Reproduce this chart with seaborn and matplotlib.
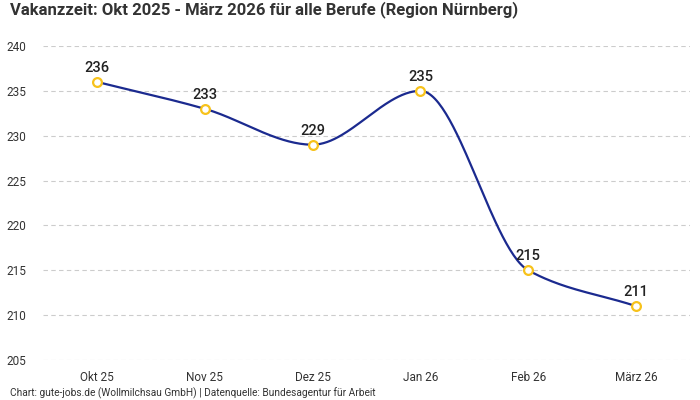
import numpy as np
import pandas as pd
import matplotlib
matplotlib.use("Agg")
import matplotlib.pyplot as plt
import seaborn as sns

months = ["Okt 25", "Nov 25", "Dez 25", "Jan 26", "Feb 26", "März 26"]
values = [236, 233, 229, 235, 215, 211]
yticks = [205, 210, 215, 220, 225, 230, 235, 240]
title = "Vakanzzeit: Okt 2025 - März 2026 für alle Berufe (Region Nürnberg)"
footer = "Chart: gute-jobs.de (Wollmilchsau GmbH) | Datenquelle: Bundesagentur für Arbeit"

sns.set_theme(style="white")
plt.rcParams['font.family'] = ['Roboto', 'DejaVu Sans']

LINE = "#1b2a8f"
MARK = "#f7c21b"
TXT = "#333333"


def monotone_curve(x, y, n=60):
    x = np.asarray(x, float); y = np.asarray(y, float)
    h = np.diff(x); d = np.diff(y) / h
    m = np.zeros_like(y)
    m[0] = d[0]; m[-1] = d[-1]
    for i in range(1, len(y) - 1):
        if d[i - 1] * d[i] <= 0:
            m[i] = 0
        else:
            m[i] = 2 / (1 / d[i - 1] + 1 / d[i])
    xs, ys = [], []
    for i in range(len(x) - 1):
        t = np.linspace(0, 1, n)
        h00 = 2 * t**3 - 3 * t**2 + 1
        h10 = t**3 - 2 * t**2 + t
        h01 = -2 * t**3 + 3 * t**2
        h11 = t**3 - t**2
        xs.append(x[i] + t * h[i])
        ys.append(h00 * y[i] + h10 * h[i] * m[i] + h01 * y[i + 1] + h11 * h[i] * m[i + 1])
    return np.concatenate(xs), np.concatenate(ys)


df = pd.DataFrame({"month": months, "value": values})
df["pos"] = np.arange(len(months))
cx, cy = monotone_curve(df["pos"], df["value"])

fig = plt.figure(figsize=(7, 4), dpi=100)
ax = fig.add_axes([0.0614, 0.1, 0.9243, 0.785])

sns.lineplot(x=cx, y=cy, ax=ax, color=LINE, linewidth=1.6, sort=False, zorder=3)
sns.scatterplot(data=df, x="pos", y="value", ax=ax, s=40, facecolor="white",
                edgecolor=MARK, linewidth=1.6, zorder=4)

for p, v in zip(df["pos"], df["value"]):
    ax.annotate(str(v), (p, v), xytext=(0, 5), textcoords="offset points",
                ha="center", va="bottom", fontsize=10.5, fontweight="medium", color="#222222")

ax.set_xlim(-0.5, len(months) - 0.5)
ax.set_ylim(205, 240)
ax.set_yticks(yticks)
ax.set_xticks(df["pos"])
ax.set_xticklabels(months)
ax.tick_params(axis="both", length=0, labelsize=8.5, colors=TXT)
ax.tick_params(axis="y", pad=12)
ax.tick_params(axis="x", pad=8)
ax.set_xlabel(""); ax.set_ylabel("")
ax.grid(axis="y", color="#cccccc", linestyle=(0, (4, 3)), linewidth=0.8)
ax.grid(axis="x", visible=False)
for s in ax.spines.values():
    s.set_visible(False)

fig.text(10 / 700, 1 - 10 / 400, title, ha="left", va="center", fontsize=12,
         fontweight="bold", color=TXT)
fig.text(10 / 700, 1 - 393 / 400, footer, ha="left", va="center", fontsize=7.3, color=TXT)

fig.savefig("out.png", dpi=100)
